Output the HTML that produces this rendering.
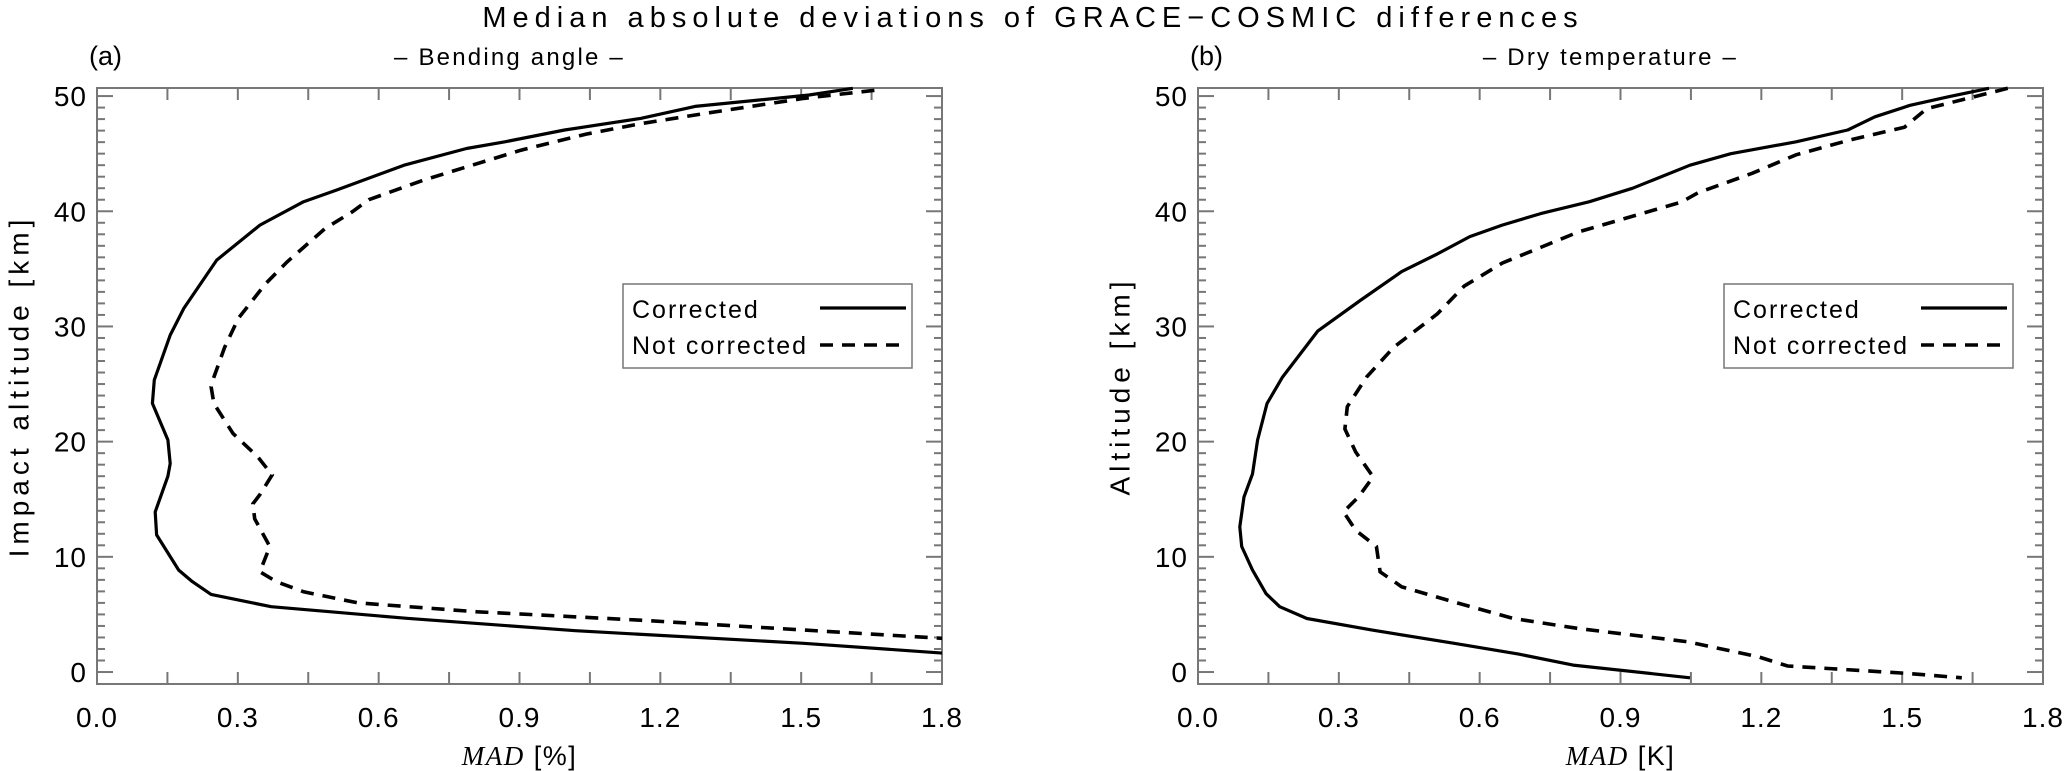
<!DOCTYPE html>
<html><head><meta charset="utf-8"><style>
body{margin:0;background:#fff;}
svg{display:block;font-family:"Liberation Sans",sans-serif;}
</style></head><body>
<svg id="chart" width="2067" height="771" viewBox="0 0 2067 771" xmlns="http://www.w3.org/2000/svg">
<text x="1033" y="27" font-size="29" text-anchor="middle" fill="#000" letter-spacing="6">Median absolute deviations of GRACE−COSMIC differences</text>
<g id="panels"></g>
</svg>
<script>
const xTicks = [0.0, 0.3, 0.6, 0.9, 1.2, 1.5, 1.8];
const yTicks = [0, 10, 20, 30, 40, 50];
const aCorrX = [1.61,1.517,1.274,1.158,0.996,0.869,0.787,0.654,0.51,0.44,0.347,0.255,0.185,0.156,0.122,0.118,0.151,0.156,0.151,0.124,0.127,0.174,0.203,0.243,0.371,0.66,1.019,1.505,1.81];
const aCorrY = [50.67,50.09,49.1,48.06,47.05,46.03,45.45,44.0,41.84,40.83,38.8,35.76,31.57,29.25,25.35,23.32,20.14,18.1,17.0,13.9,11.9,8.85,7.85,6.74,5.67,4.66,3.59,2.49,1.62];
const aNotX = [1.656,1.505,1.297,1.158,1.042,0.903,0.799,0.695,0.579,0.544,0.486,0.405,0.359,0.301,0.272,0.249,0.243,0.249,0.29,0.342,0.373,0.347,0.332,0.336,0.368,0.347,0.382,0.44,0.556,0.81,1.158,1.505,1.81];
const aNotY = [50.5,49.8,48.5,47.6,46.7,45.3,44.0,42.7,41.0,39.96,38.5,35.6,33.7,30.7,28.2,25.6,24.77,23.3,20.7,18.7,17.1,15.4,14.6,13.3,10.9,8.7,7.85,6.96,6.0,5.23,4.5,3.65,2.9];
const bCorrX = [1.685,1.598,1.517,1.442,1.384,1.274,1.135,1.048,0.926,0.834,0.73,0.648,0.579,0.51,0.434,0.347,0.255,0.18,0.147,0.127,0.116,0.098,0.089,0.093,0.116,0.145,0.174,0.232,0.371,0.544,0.683,0.799,1.048];
const bCorrY = [50.67,49.94,49.2,48.2,47.05,46.03,45.0,44.0,42.0,40.83,39.8,38.8,37.8,36.3,34.76,32.3,29.6,25.6,23.3,20.14,17.2,15.2,12.6,10.9,8.85,6.8,5.67,4.65,3.64,2.5,1.56,0.6,-0.5];
const bNotX = [1.725,1.552,1.505,1.39,1.274,1.181,1.065,1.03,0.81,0.648,0.567,0.51,0.417,0.359,0.318,0.313,0.336,0.373,0.342,0.31,0.336,0.38,0.388,0.434,0.556,0.672,0.81,1.042,1.193,1.256,1.505,1.627];
const bNotY = [50.67,48.9,47.3,46.2,44.9,43.3,41.6,40.8,38.2,35.5,33.5,31.1,28.2,25.6,23.03,21.1,19.1,16.95,15.2,13.9,12.3,10.9,8.7,7.4,5.96,4.65,3.78,2.63,1.33,0.52,-0.1,-0.5];

const NS = "http://www.w3.org/2000/svg";
const root = document.getElementById('panels');
function mk(tag, attrs, parent){const e=document.createElementNS(NS,tag);for(const k in attrs)e.setAttribute(k,attrs[k]);(parent||root).appendChild(e);return e;}

const TOP=88, BOT=684, W=845, YMIN=-1.04, YMAX=50.7, XMAX=1.8;
function panel(x0, label, sub, ytitle, unit, cx, cy, nx, ny){
  const g = mk('g',{});
  
  
  const X = v => x0 + v / XMAX * W;
  const Y = v => BOT - (v - YMIN) / (YMAX - YMIN) * (BOT - TOP);
  const pl = mk('text',{x:x0-8,y:65,'font-size':27,fill:'#000'},g); pl.textContent=label;
   
  const st = mk('text',{x:x0+W/2-10,y:65,'font-size':24,'text-anchor':'middle',fill:'#000','letter-spacing':'2.2'},g); st.textContent='– '+sub+' –';
   
  const tg = mk('g',{stroke:'#777','stroke-width':2},g);
   
  for(let v=0; v<=XMAX+1e-9; v+=0.15){
    const x=X(v);
    mk('line',{x1:x,y1:BOT,x2:x,y2:BOT-12},tg);
    mk('line',{x1:x,y1:TOP,x2:x,y2:TOP+12},tg);
  }
  for(let k=0;k<=50;k++){
    const y=Y(k), L=(k%10===0)?16:8;
    mk('line',{x1:x0,y1:y,x2:x0+L,y2:y},tg);
    mk('line',{x1:x0+W,y1:y,x2:x0+W-L,y2:y},tg);
  }
  const fr = mk('rect',{x:x0,y:TOP,width:W,height:BOT-TOP,fill:'none',stroke:'#777','stroke-width':2},g);
   
  xTicks.forEach(v=>{
    const t=mk('text',{x:X(v),y:727,'font-size':28,'text-anchor':'middle',fill:'#000','letter-spacing':'1'},g); t.textContent=v.toFixed(1);
     
  });
  yTicks.forEach(v=>{
    const t=mk('text',{x:x0-10,y:Y(v)+10,'font-size':28,'text-anchor':'end',fill:'#000','letter-spacing':'1'},g); t.textContent=String(v);
     
  });
  const xt=mk('text',{x:x0+W/2,y:765,'font-size':27,'text-anchor':'middle',fill:'#000','letter-spacing':'1.5'},g);
  xt.innerHTML='<tspan font-family="Liberation Serif" font-style="italic">MAD</tspan> ['+unit+']';
   
  const yc=(TOP+BOT)/2;
  const yt=mk('text',{x:x0-78,y:yc,'font-size':28,'text-anchor':'middle',fill:'#000','letter-spacing':'5',transform:`rotate(-90 ${x0-78} ${yc})`,'dominant-baseline':'central'},g);
  yt.textContent=ytitle;
   
  const clip = 'clip'+label.replace(/[()]/g,'');
  const cp = mk('clipPath',{id:clip},g); mk('rect',{x:x0,y:TOP-4,width:W,height:BOT-TOP+4},cp);
  const pts=(xs,ys)=>xs.map((v,i)=>X(v).toFixed(1)+','+Y(ys[i]).toFixed(1)).join(' ');
  const s1=mk('polyline',{points:pts(cx,cy),fill:'none',stroke:'#000','stroke-width':3.2,'stroke-linejoin':'round','clip-path':`url(#${clip})`},g);
   
  const s2=mk('polyline',{points:pts(nx,ny),fill:'none',stroke:'#000','stroke-width':3.6,'stroke-dasharray':'13 9','clip-path':`url(#${clip})`},g);
   
  const lg=mk('g',{},g);
   
  const lx=x0+526;
  mk('rect',{x:lx,y:284,width:289,height:84,fill:'#fff',stroke:'#777','stroke-width':1.5},lg);
  const l1=mk('text',{x:lx+9,y:318,'font-size':25,fill:'#000','letter-spacing':'2'},lg); l1.textContent='Corrected';
   
  mk('line',{x1:lx+197,y1:308,x2:lx+283,y2:308,stroke:'#000','stroke-width':3.2},lg);
  const l2=mk('text',{x:lx+9,y:354,'font-size':25,fill:'#000','letter-spacing':'2'},lg); l2.textContent='Not corrected';
   
  mk('line',{x1:lx+197,y1:345,x2:lx+283,y2:345,stroke:'#000','stroke-width':3.6,'stroke-dasharray':'13 9'},lg);
}
panel(97,'(a)','Bending angle','Impact altitude [km]','%',aCorrX,aCorrY,aNotX,aNotY);
panel(1198,'(b)','Dry temperature','Altitude [km]','K',bCorrX,bCorrY,bNotX,bNotY);
</script>
</body></html>
